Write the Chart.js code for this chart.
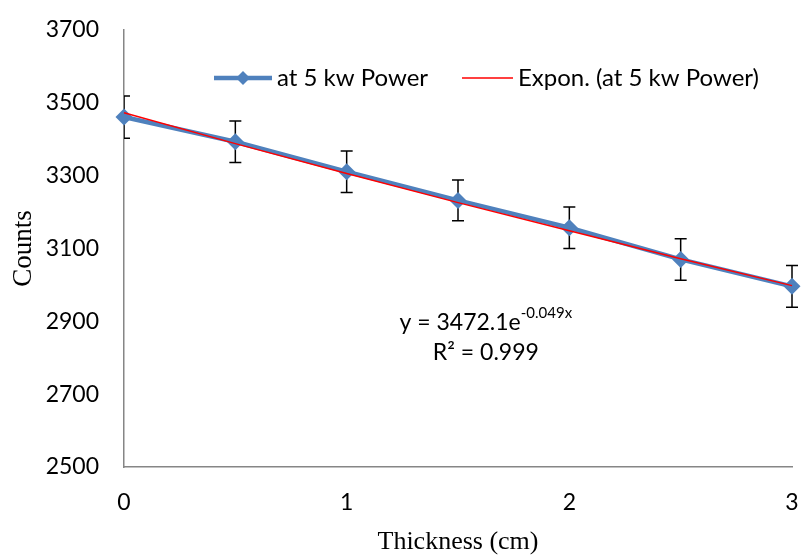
<!DOCTYPE html>
<html><head><meta charset="utf-8">
<script src="https://cdn.jsdelivr.net/npm/chart.js@4"></script>
<style>html,body{margin:0;padding:0;background:#fff}#wrap{width:801px;height:556px}</style>
</head><body><div id="wrap"><canvas id="c" width="801" height="556"></canvas></div>
<script>
const thickness = [0, 0.5, 1, 1.5, 2, 2.5, 3];
const counts = [3461, 3393, 3311, 3232, 3157, 3070, 2996];
const countErrors = [58, 57, 57, 56, 57, 57, 57];
const trendCounts = [3473, 3388, 3306, 3226, 3149, 3072, 2998];
const yTicks = [2500, 2700, 2900, 3100, 3300, 3500, 3700];
const xTicks = [0, 1, 2, 3];
const seriesLabel = 'at 5 kw Power';
const trendLabel = 'Expon. (at 5 kw Power)';
const equationMain = 'y = 3472.1e';
const equationSup = '-0.049x';
const rSquaredText = 'R² = 0.999';
const xTitle = 'Thickness (cm)';
const yTitle = 'Counts';

const BLUE = '#4F81BD', RED = '#FF0000', AXIS = '#868686';
const SANS = 'Lato, "Open Sans", sans-serif';
const SERIF = '"Liberation Serif", "Times New Roman", serif';

const errorBars = {
  id: 'errorBars',
  beforeDatasetsDraw(chart) {
    const {ctx, chartArea, scales: {x, y}} = chart;
    ctx.save();
    ctx.beginPath();
    ctx.rect(chartArea.left, chartArea.top - 20, chartArea.right - chartArea.left + 20, chartArea.bottom - chartArea.top + 40);
    ctx.clip();
    ctx.strokeStyle = '#000';
    ctx.lineWidth = 1.5;
    thickness.forEach((t, i) => {
      const px = x.getPixelForValue(t);
      const top = y.getPixelForValue(counts[i] + countErrors[i]);
      const bot = y.getPixelForValue(counts[i] - countErrors[i]);
      ctx.beginPath();
      ctx.moveTo(px, top); ctx.lineTo(px, bot);
      ctx.moveTo(px - 6, top); ctx.lineTo(px + 6, top);
      ctx.moveTo(px - 6, bot); ctx.lineTo(px + 6, bot);
      ctx.stroke();
    });
    ctx.restore();
  }
};

const overlay = {
  id: 'overlay',
  afterDraw(chart) {
    const {ctx, scales: {x, y}} = chart;
    ctx.save();
    // legend
    const ly = 78;
    ctx.strokeStyle = BLUE; ctx.lineWidth = 4.5;
    ctx.beginPath(); ctx.moveTo(214, ly); ctx.lineTo(272, ly); ctx.stroke();
    ctx.fillStyle = BLUE;
    ctx.beginPath();
    ctx.moveTo(243, ly - 7); ctx.lineTo(250, ly); ctx.lineTo(243, ly + 7); ctx.lineTo(236, ly); ctx.closePath(); ctx.fill();
    ctx.strokeStyle = RED; ctx.lineWidth = 1.5;
    ctx.beginPath(); ctx.moveTo(462, ly); ctx.lineTo(513, ly); ctx.stroke();
    ctx.fillStyle = '#000';
    ctx.font = '24px ' + SANS;
    ctx.textBaseline = 'middle';
    ctx.textAlign = 'left';
    ctx.fillText(seriesLabel, 277, ly);
    ctx.fillText(trendLabel, 518, ly);
    // equation
    const cx = x.getPixelForValue(1.625);
    const ey = y.getPixelForValue(2897);
    const ry = y.getPixelForValue(2815);
    ctx.font = '23px ' + SANS;
    const wMain = ctx.measureText(equationMain).width;
    ctx.font = '15px ' + SANS;
    const wSup = ctx.measureText(equationSup).width;
    const start = cx - (wMain + wSup) / 2;
    ctx.font = '23px ' + SANS;
    ctx.fillText(equationMain, start, ey);
    ctx.font = '15px ' + SANS;
    ctx.fillText(equationSup, start + wMain, ey - 9);
    ctx.font = '23px ' + SANS;
    ctx.textAlign = 'center';
    ctx.fillText(rSquaredText, cx, ry);
    ctx.restore();
  }
};

new Chart(document.getElementById('c'), {
  type: 'scatter',
  data: {
    datasets: [
      {
        label: seriesLabel,
        data: thickness.map((t, i) => ({x: t, y: counts[i]})),
        showLine: true,
        borderColor: BLUE,
        backgroundColor: BLUE,
        borderWidth: 4.5,
        pointStyle: 'rectRot',
        pointRadius: 8.5,
        pointHoverRadius: 8.5,
        pointBorderWidth: 0,
        clip: false,
        order: 1
      },
      {
        label: trendLabel,
        data: thickness.map((t, i) => ({x: t, y: trendCounts[i]})),
        showLine: true,
        borderColor: RED,
        borderWidth: 1.5,
        pointRadius: 0,
        clip: false,
        order: 0
      }
    ]
  },
  options: {
    responsive: false,
    animation: false,
    events: [],
    layout: {autoPadding: false, padding: {top: 30, right: 9, left: 0, bottom: 0}},
    plugins: {legend: {display: false}, tooltip: {enabled: false}},
    scales: {
      x: {
        type: 'linear', min: 0, max: 3,
        afterBuildTicks: s => { s.ticks = xTicks.map(v => ({value: v})); },
        afterFit: s => { s.height = 89; s.paddingLeft = 0; s.paddingRight = 0; },
        grid: {display: false, drawTicks: false},
        border: {display: true, color: AXIS, width: 1.5},
        ticks: {color: '#000', font: {family: SANS, size: 23}, padding: 22, callback: v => String(v)},
        title: {display: true, text: xTitle, color: '#000', font: {family: SERIF, size: 26, lineHeight: 1}, padding: {top: 0, bottom: 1}}
      },
      y: {
        type: 'linear', min: 2500, max: 3700,
        afterBuildTicks: s => { s.ticks = yTicks.map(v => ({value: v})); },
        afterFit: s => { s.width = 124; s.paddingTop = 0; s.paddingBottom = 0; },
        grid: {display: false, drawTicks: false},
        border: {display: true, color: AXIS, width: 1.5},
        ticks: {color: '#000', font: {family: SANS, size: 23}, padding: 25, callback: v => String(v)},
        title: {display: true, text: yTitle, color: '#000', font: {family: SERIF, size: 27, lineHeight: 1}, padding: {top: 10, bottom: 0}}
      }
    }
  },
  plugins: [errorBars, overlay]
});
</script></body></html>
